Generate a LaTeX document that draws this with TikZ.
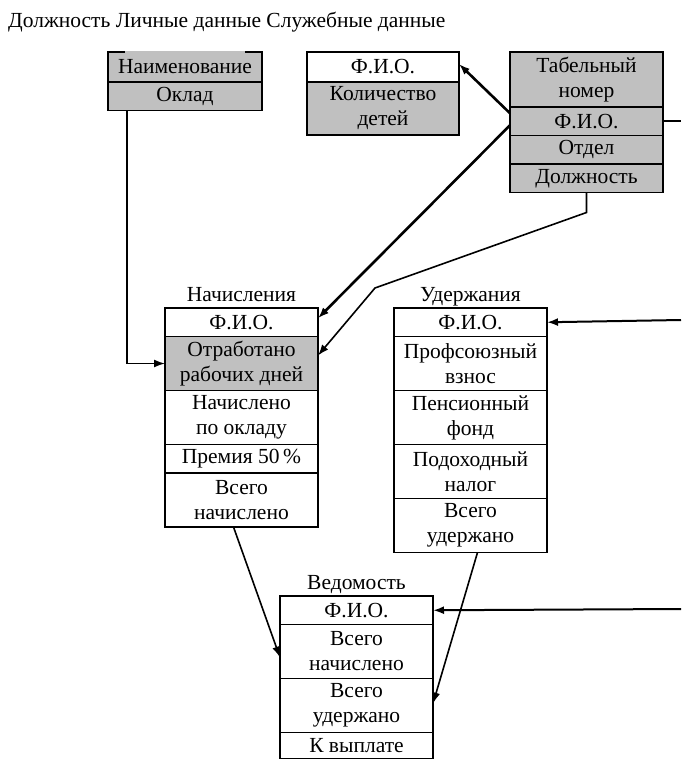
\documentclass[tikz,border=0pt]{standalone}
\usepackage{fontspec}
\setmainfont{Liberation Serif}
\usetikzlibrary{positioning,arrows.meta}
\definecolor{cellgray}{RGB}{192,192,192}
\tikzstyle{cell}=[draw,line width=1.4pt,minimum width=153pt,minimum height=28.5pt,
                inner sep=0pt,outer sep=0pt,align=center,font=\fontsize{21.5}{25}\selectfont]
\tikzstyle{cell2}=[cell,minimum height=54pt]
\tikzstyle{shaded}=[fill=cellgray]
\tikzstyle{caption}=[font=\fontsize{21.5}{25}\selectfont,inner sep=0pt]
\tikzstyle{link}=[line width=1.6pt,-{Latex[length=11pt,width=8pt]}]
\tikzstyle{strong link}=[link,line width=2.6pt]

\begin{document}
\begin{tikzpicture}[x=1pt,y=-1pt]
\useasboundingbox (0,0) rectangle (681,761);

\node[caption,anchor=base west] (hdr) at (8,27) {Должность Личные данные Служебные данные};

% Должность
\node[cell,shaded,anchor=north west,minimum width=154pt,minimum height=30pt] (naim) at (108,52) {Наименование};
\node[cell,shaded,below=0pt of naim,minimum width=154pt] (okl) {Оклад};
\draw[cellgray,line width=1.5pt] ([xshift=17pt]naim.north west) -- ([xshift=-17pt]naim.north east);

% Личные данные
\node[cell,anchor=north west,minimum width=152pt,minimum height=30pt] (lfio) at (307,52) {Ф.И.О.};
\node[cell2,shaded,below=0pt of lfio,minimum width=152pt,minimum height=53pt] (ldet) {Количество\\детей};

% Служебные данные
\node[cell2,shaded,anchor=north west,minimum height=55pt] (stab) at (510,52) {Табельный\\номер};
\node[cell,shaded,below=0pt of stab] (sfio) {Ф.И.О.};
\node[cell,shaded,below=0pt of sfio] (sotd) {Отдел};
\node[cell,shaded,below=0pt of sotd] (sdol) {Должность};

% Начисления
\node[cell,anchor=north west] (nfio) at (165,308) {Ф.И.О.};
\node[cell2,shaded,below=0pt of nfio] (notr) {Отработано\\рабочих дней};
\node[cell2,below=0pt of notr] (nokl) {Начислено\\по окладу};
\node[cell,below=0pt of nokl] (nprem) {Премия 50\,\%};
\node[cell2,below=0pt of nprem] (nvs) {Всего\\начислено};
\node[caption,anchor=base] (ncap) at ([yshift=7pt]nfio.north) {Начисления};

% Удержания
\node[cell,anchor=north west] (ufio) at (394,308) {Ф.И.О.};
\node[cell2,below=0pt of ufio] (uprof) {Профсоюзный\\взнос};
\node[cell2,below=0pt of uprof] (upens) {Пенсионный\\фонд};
\node[cell2,below=0pt of upens] (upod) {Подоходный\\налог};
\node[cell2,below=0pt of upod] (uvs) {Всего\\удержано};
\node[caption,anchor=base] (ucap) at ([yshift=7pt]ufio.north) {Удержания};

% Ведомость
\node[cell,anchor=north west] (vfio) at (280,596) {Ф.И.О.};
\node[cell2,below=0pt of vfio] (vvn) {Всего\\начислено};
\node[cell2,below=0pt of vvn] (vvu) {Всего\\удержано};
\node[cell,below=0pt of vvu,minimum height=26pt] (vvyp) {К выплате};
\node[caption,anchor=base] (vcap) at ([yshift=7pt]vfio.north) {Ведомость};

\coordinate (edge1) at (681,320);
\coordinate (edge2) at (681,609);
\coordinate (bend2) at (375,288);

\draw[link] ([xshift=19pt]okl.south west) |- (notr.west);
\draw[link] (sdol.south) -- ++(0,20) -- (bend2) -- ([yshift=8pt]notr.east);
\draw[line width=1.6pt] (sfio.east) -- (sfio.east -| edge1);

\path
([yshift=8pt]sfio.west) edge[strong link] ([yshift=3pt]lfio.east)
([yshift=-4pt]sfio.west) edge[strong link] ([yshift=4pt]nfio.east)
(edge1) edge[link,line width=2pt] (ufio.east)
(edge2) edge[link,line width=2pt] (vfio.east)
([xshift=-8pt]nvs.south) edge[link] ([yshift=-6pt]vvn.west)
([xshift=7pt]uvs.south) edge[link] ([yshift=2pt]vvu.east)
;
\end{tikzpicture}
\end{document}
